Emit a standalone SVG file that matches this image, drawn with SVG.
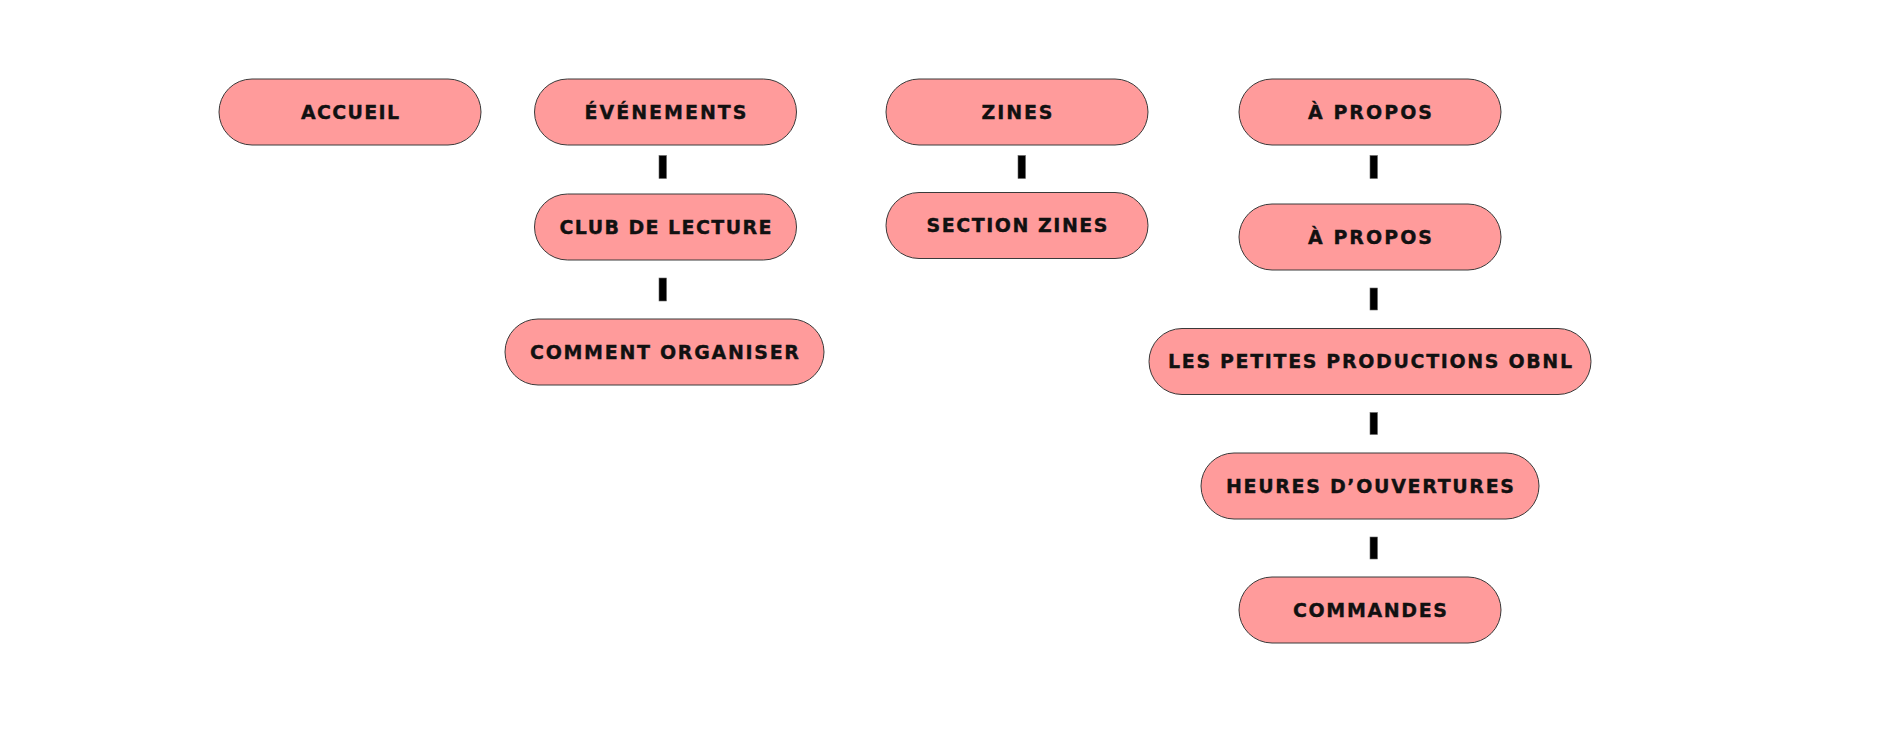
<svg xmlns="http://www.w3.org/2000/svg" width="1901" height="738" viewBox="0 0 1901 738">
<style>
.pill{fill:#FF9B9B;stroke:#3a3a3a;stroke-width:1}
.lbl{font-family:"DejaVu Sans","Liberation Sans",sans-serif;font-weight:bold;font-size:19px;fill:#111;stroke:#111;stroke-width:0.35;text-anchor:middle}
.con{fill:#000;stroke:#666;stroke-width:0.6}
</style>
<rect width="1901" height="738" fill="#fff"/>
<g id="connectors">
<rect class="con" x="659" y="155.5" width="7.5" height="23"/>
<rect class="con" x="659" y="278" width="7.5" height="23"/>
<rect class="con" x="1018" y="155.5" width="7.5" height="23"/>
<rect class="con" x="1370" y="155.5" width="7.5" height="23"/>
<rect class="con" x="1370" y="288" width="7.5" height="22"/>
<rect class="con" x="1370" y="412.5" width="7.5" height="22"/>
<rect class="con" x="1370" y="537" width="7.5" height="22"/>
</g>
<g id="accueil"><rect class="pill" x="219" y="79" width="262" height="66" rx="33"/><text class="lbl" x="350" y="118.9" textLength="98" lengthAdjust="spacing">ACCUEIL</text></g>
<g id="evenements"><rect class="pill" x="534.5" y="79" width="262" height="66" rx="33"/><text class="lbl" x="665.5" y="118.9" textLength="162" lengthAdjust="spacing">ÉVÉNEMENTS</text></g>
<g id="club"><rect class="pill" x="534.5" y="194" width="262" height="66" rx="33"/><text class="lbl" x="665.5" y="233.9" textLength="212" lengthAdjust="spacing">CLUB DE LECTURE</text></g>
<g id="comment"><rect class="pill" x="505" y="319" width="319" height="66" rx="33"/><text class="lbl" x="664.5" y="358.9" textLength="269" lengthAdjust="spacing">COMMENT ORGANISER</text></g>
<g id="zines"><rect class="pill" x="886" y="79" width="262" height="66" rx="33"/><text class="lbl" x="1017" y="118.9" textLength="71" lengthAdjust="spacing">ZINES</text></g>
<g id="section-zines"><rect class="pill" x="886" y="192.5" width="262" height="66" rx="33"/><text class="lbl" x="1017" y="232.4" textLength="181" lengthAdjust="spacing">SECTION ZINES</text></g>
<g id="apropos1"><rect class="pill" x="1239" y="79" width="262" height="66" rx="33"/><text class="lbl" x="1370" y="118.9" textLength="124" lengthAdjust="spacing">À PROPOS</text></g>
<g id="apropos2"><rect class="pill" x="1239" y="204" width="262" height="66" rx="33"/><text class="lbl" x="1370" y="243.9" textLength="124" lengthAdjust="spacing">À PROPOS</text></g>
<g id="petites"><rect class="pill" x="1149" y="328.5" width="442" height="66" rx="33"/><text class="lbl" x="1370" y="368.4" textLength="404" lengthAdjust="spacing">LES PETITES PRODUCTIONS OBNL</text></g>
<g id="heures"><rect class="pill" x="1201" y="453" width="338" height="66" rx="33"/><text class="lbl" x="1370" y="492.9" textLength="288" lengthAdjust="spacing">HEURES D’OUVERTURES</text></g>
<g id="commandes"><rect class="pill" x="1239" y="577" width="262" height="66" rx="33"/><text class="lbl" x="1370" y="616.9" textLength="154" lengthAdjust="spacing">COMMANDES</text></g>
</svg>
